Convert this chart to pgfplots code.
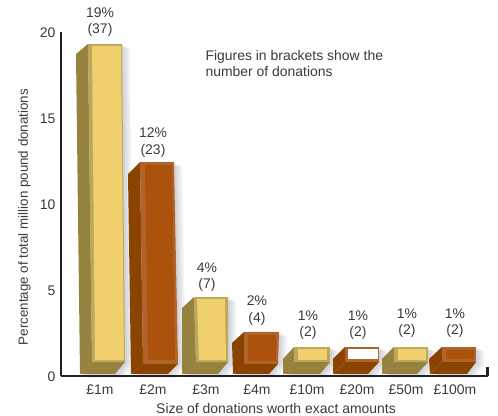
\documentclass[border=0pt]{standalone}
\usepackage{pgfplots}
\pgfplotsset{compat=1.18}
\usepackage{fontspec}
\setmainfont{Liberation Sans}
\definecolor{txt}{HTML}{3A3A3A}
\definecolor{axl}{HTML}{231F20}
\definecolor{kside}{HTML}{96823F}
\definecolor{krim}{HTML}{BDA75E}
\definecolor{kface}{HTML}{EFD06C}
\definecolor{bside}{HTML}{8B4400}
\definecolor{brim}{HTML}{B0642C}
\definecolor{bface}{HTML}{AB520C}
\definecolor{shad}{HTML}{7F8596}
% geometry of each bar: front-top x, back-top x, front-bottom x, back-bottom x,
% right-top x, right-bottom x, floor-right x, front-top y, back-top y
\def\BarOne{{76}{88}{80}{92}{122}{125}{115}{18.72}{19.30}}
\def\BarTwo{{128}{140}{131}{143}{174}{178}{168}{11.74}{12.44}}
\def\BarThree{{182}{194}{182}{196}{228}{228}{218}{3.95}{4.59}}
\def\BarFour{{232}{244}{233}{244}{279}{278}{269}{1.92}{2.56}}
\def\BarFive{{283}{294}{283}{294}{330}{330}{320}{0.99}{1.69}}
\def\BarSix{{333}{345}{333}{345}{379}{379}{368}{0.99}{1.69}}
\def\BarSeven{{382}{394}{382}{394}{428}{428}{417}{0.99}{1.69}}
\def\BarEight{{429}{442}{430}{442}{476}{476}{467}{0.99}{1.69}}
\newcommand\ShadowAt[9]{%
  \addplot[fill=shad,draw=none,opacity=.10,xshift=2bp,yshift=-1bp] coordinates {(#1,#8)(#2,#9)(#5,#9)(#6,0.81)(#7,0.12)(#3,0.12)} --cycle;
  \addplot[fill=shad,draw=none,opacity=.10,xshift=4bp,yshift=-2bp] coordinates {(#1,#8)(#2,#9)(#5,#9)(#6,0.81)(#7,0.12)(#3,0.12)} --cycle;
  \addplot[fill=shad,draw=none,opacity=.10,xshift=6bp,yshift=-3bp] coordinates {(#1,#8)(#2,#9)(#5,#9)(#6,0.81)(#7,0.12)(#3,0.12)} --cycle;
  \addplot[fill=shad,draw=none,opacity=.10,xshift=8bp,yshift=-4bp] coordinates {(#1,#8)(#2,#9)(#5,#9)(#6,0.81)(#7,0.12)(#3,0.12)} --cycle;
}
\def\Parts#1#2#3#4#5#6#7#8#9{%
  \def\PartsB##1##2##3{%
    \addplot[fill=##1,draw=none] coordinates {(#1,#8)(#2,#9)(#4,##3)(#3,0.12)} --cycle;
    \addplot[fill=##1,draw=none] coordinates {(#3,0.12)(#4,##3)(#6,##3)(#7,0.12)} --cycle;
    \addplot[fill=##2,draw=none] coordinates {(#2,#9)(#5,#9)(#6,##3)(#4,##3)} --cycle;
  }\PartsB}
\newcommand\Inner[7]{%
  \addplot[fill=#1,draw=none] coordinates {(#2,#6)(#3,#6)(#5,#7)(#4,#7)} --cycle;
}
\begin{document}
\begin{tikzpicture}
\useasboundingbox (-61bp,-40bp) rectangle (437bp,376bp);
\begin{axis}[
  at={(0,0)}, anchor=origin,
  scale only axis, width=427bp, height=344bp,
  xmin=61, xmax=488, ymin=0, ymax=20,
  clip=false, axis on top,
  axis x line=bottom, axis y line=left,
  axis line style={draw=axl,line width=2.5bp,-},
  tick style={draw=none}, major tick length=0pt,
  xtick={100,153,206,257,307,357,406,455},
  xticklabels={£1m,£2m,£3m,£4m,£10m,£20m,£50m,£100m},
  ytick={0,5,10,15,20},
  tick label style={font=\fontsize{14}{16}\selectfont,text=txt},
  /pgf/number format/assume math mode=true,
  xticklabel style={anchor=center,yshift=-14bp},
  yticklabel style={anchor=east,xshift=-2bp,yshift=-1bp},
  every axis x label/.style={at={(axis cs:276,-1.88)},anchor=center},
  every axis y label/.style={at={(axis cs:24.5,9.24)},anchor=center,rotate=90},
  xlabel style={font=\fontsize{14}{16}\selectfont,text=txt},
  ylabel style={font=\fontsize{13.4}{16}\selectfont,text=txt},
  xlabel={Size of donations worth exact amounts},
  ylabel={Percentage of total million pound donations},
]
\expandafter\ShadowAt\BarOne
\expandafter\ShadowAt\BarTwo
\expandafter\ShadowAt\BarThree
\expandafter\ShadowAt\BarFour
\expandafter\ShadowAt\BarFive
\expandafter\ShadowAt\BarSix
\expandafter\ShadowAt\BarSeven
\expandafter\ShadowAt\BarEight
\expandafter\Parts\BarOne{kside}{krim}{0.81}
\Inner{kface}{92}{121}{95}{124}{19.19}{0.93}
\expandafter\Parts\BarTwo{bside}{brim}{0.70}
\Inner{bface}{145}{172}{148}{175}{12.27}{0.93}
\expandafter\Parts\BarThree{kside}{krim}{0.81}
\Inner{kface}{197}{225}{199}{226}{4.48}{0.93}
\expandafter\Parts\BarFour{bside}{brim}{0.70}
\Inner{bface}{248}{276}{248}{276}{2.38}{0.87}
\expandafter\Parts\BarFive{kside}{krim}{0.81}
\Inner{kface}{298}{327}{298}{327}{1.57}{0.93}
\expandafter\Parts\BarSix{bside}{brim}{0.81}
\Inner{white}{348}{378}{348}{378}{1.57}{0.99}
\expandafter\Parts\BarSeven{kside}{krim}{0.81}
\Inner{kface}{398}{426}{398}{426}{1.57}{0.93}
\expandafter\Parts\BarEight{bside}{brim}{0.81}
\Inner{bface}{446}{474}{446}{474}{1.51}{0.99}
% right end of the x axis
\addplot[draw=axl,line width=2.5bp] coordinates {(487.5,0)(487.5,0.55)};
\tikzset{lab/.style={align=center,font=\fontsize{14}{16.5}\selectfont,text=txt,yshift=-1.5bp}}
\node[lab] at (axis cs:100,20.66) {19\%\\(37)};
\node[lab] at (axis cs:153,13.66) {12\%\\(23)};
\node[lab] at (axis cs:207,5.84) {4\%\\(7)};
\node[lab] at (axis cs:257,3.90) {2\%\\(4)};
\node[lab] at (axis cs:308,3.05) {1\%\\(2)};
\node[lab] at (axis cs:358,3.05) {1\%\\(2)};
\node[lab] at (axis cs:407,3.17) {1\%\\(2)};
\node[lab] at (axis cs:455,3.17) {1\%\\(2)};
\node[lab,align=left,anchor=west,xshift=-3bp,yshift=2bp] at (axis cs:205,18.14) {Figures in brackets show the\\number of donations};
\end{axis}
\end{tikzpicture}
\end{document}
